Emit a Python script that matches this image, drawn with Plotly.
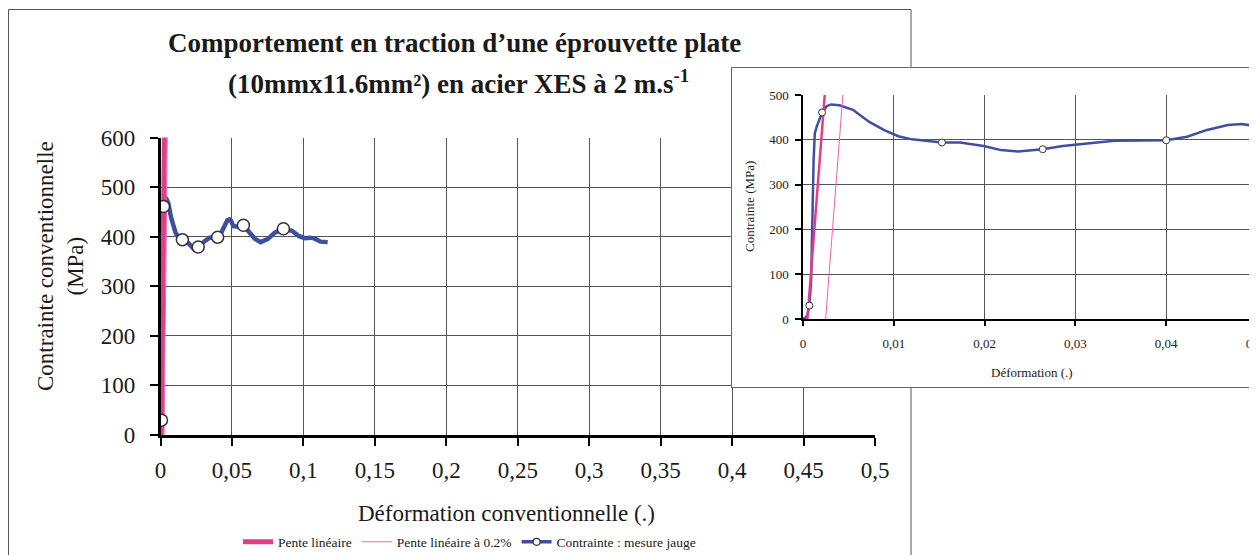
import plotly.graph_objects as go

# ---------------- data ----------------
strain = [0.0, 0.0003, 0.0005, 0.0007, 0.0009, 0.0010, 0.0011, 0.00117, 0.0013,
          0.0015, 0.0018, 0.0021, 0.0026, 0.0031, 0.0040, 0.0055, 0.0073, 0.0090,
          0.0105, 0.0120, 0.0153, 0.0173, 0.0199, 0.0218, 0.0237, 0.0264, 0.0286,
          0.0309, 0.0343, 0.0400, 0.0423, 0.0445, 0.0468, 0.0483, 0.0494, 0.0510,
          0.0550, 0.0580, 0.0620, 0.0660, 0.0700, 0.0750, 0.0800, 0.0860, 0.0920,
          0.0970, 0.1010, 0.1050, 0.1080, 0.1120, 0.1170]
stress = [0, 3, 10, 31, 87, 161, 288, 355, 414,
          429, 444, 461, 475, 479, 477, 467, 440, 421,
          408, 401, 394, 394, 386, 377, 374, 379, 386,
          391, 398, 399, 407, 422, 433, 435, 432, 421,
          420, 423, 410, 396, 389, 395, 408, 416, 412,
          401, 397, 398, 396, 390, 389]

marker_strain = [0.0007, 0.0021, 0.0153, 0.0264, 0.0400, 0.0580, 0.0860]
marker_stress = [30, 461, 394, 379, 399, 423, 416]

pente_strain = [0.00045, 0.00285]
pente_stress = [-10, 620]
pente02_strain = [0.00245, 0.00485]
pente02_stress = [-10, 620]

main_xticks = [0, 0.05, 0.1, 0.15, 0.2, 0.25, 0.3, 0.35, 0.4, 0.45, 0.5]
main_xlabels = ["0", "0,05", "0,1", "0,15", "0,2", "0,25", "0,3", "0,35", "0,4", "0,45", "0,5"]
main_yticks = [0, 100, 200, 300, 400, 500, 600]
inset_xticks = [0, 0.01, 0.02, 0.03, 0.04, 0.05]
inset_xlabels = ["0", "0,01", "0,02", "0,03", "0,04", "0,05"]
inset_yticks = [0, 100, 200, 300, 400, 500]

# ---------------- styling ----------------
PAGE_W, PAGE_H = 1257, 555
OFF = 8                       # default page margin around the plot div
FW, FH = PAGE_W - OFF, PAGE_H - OFF
SERIF = "Liberation Serif"
BLUE = "#3F4FA0"
PINK = "#E23D8B"
PINK_THIN = "#EE62A8"
GRID = "#555555"


def px(x):
    return (x - OFF) / FW


def py(y):
    return 1 - (y - OFF) / FH


fig = go.Figure()

# ---- main chart ----
fig.add_trace(go.Scatter(x=strain, y=stress, mode="lines", xaxis="x", yaxis="y",
                         line=dict(color=BLUE, width=4.5), showlegend=False,
                         hoverinfo="skip"))
fig.add_trace(go.Scatter(x=pente_strain, y=pente_stress, mode="lines", xaxis="x", yaxis="y",
                         name="Pente linéaire", line=dict(color=PINK, width=5),
                         legendrank=1))
fig.add_trace(go.Scatter(x=pente02_strain, y=pente02_stress, mode="lines", xaxis="x", yaxis="y",
                         name="Pente linéaire à 0.2%", line=dict(color=PINK_THIN, width=1),
                         legendrank=2))
fig.add_trace(go.Scatter(x=marker_strain, y=marker_stress, mode="markers", xaxis="x", yaxis="y",
                         marker=dict(symbol="circle", size=12, color="white",
                                     line=dict(color="#333333", width=1.5)),
                         showlegend=False, hoverinfo="skip"))
# legend entry for the measured curve
fig.add_trace(go.Scatter(x=[None], y=[None], mode="lines+markers", xaxis="x", yaxis="y",
                         name="Contrainte : mesure jauge",
                         line=dict(color=BLUE, width=3.5),
                         marker=dict(symbol="circle", size=7, color="white",
                                     line=dict(color="#333333", width=1.2)),
                         legendrank=3))

# ---- inset frame subplot (white background covering the main chart) ----
fig.add_trace(go.Scatter(x=[None], y=[None], mode="lines", xaxis="x2", yaxis="y2",
                         showlegend=False, hoverinfo="skip"))

# ---- inset chart ----
fig.add_trace(go.Scatter(x=strain, y=stress, mode="lines", xaxis="x3", yaxis="y3",
                         line=dict(color=BLUE, width=2.5), showlegend=False,
                         hoverinfo="skip"))
fig.add_trace(go.Scatter(x=pente_strain, y=pente_stress, mode="lines", xaxis="x3", yaxis="y3",
                         line=dict(color=PINK, width=2.5), showlegend=False))
fig.add_trace(go.Scatter(x=pente02_strain, y=pente02_stress, mode="lines", xaxis="x3", yaxis="y3",
                         line=dict(color=PINK_THIN, width=1), showlegend=False))
fig.add_trace(go.Scatter(x=marker_strain, y=marker_stress, mode="markers", xaxis="x3", yaxis="y3",
                         marker=dict(symbol="circle", size=7, color="white",
                                     line=dict(color="#333333", width=1)),
                         showlegend=False, hoverinfo="skip"))

main_tickfont = dict(family=SERIF, size=23, color="#1a1a1a")
inset_tickfont = dict(family=SERIF, size=13, color="#1a1a1a")

fig.update_layout(
    width=FW, height=FH, autosize=False,
    margin=dict(l=0, r=0, t=0, b=0, pad=0, autoexpand=False),
    paper_bgcolor="white", plot_bgcolor="white",
    separators=", ",
    font=dict(family=SERIF, color="#1a1a1a"),
    xaxis=dict(domain=[px(160.5), px(875)], range=[0, 0.5], anchor="y",
               tickvals=main_xticks, ticktext=main_xlabels,
               showline=True, linecolor="black", linewidth=2.5,
               ticks="outside", ticklen=8, tickwidth=2, tickcolor="black",
               showgrid=True, gridcolor=GRID, gridwidth=1, zeroline=False,
               tickfont=main_tickfont, ticklabelstandoff=5, automargin=False),
    yaxis=dict(domain=[py(435), py(137.5)], range=[0, 600], anchor="x",
               tickvals=main_yticks,
               showline=True, linecolor="black", linewidth=2.5,
               ticks="outside", ticklen=8, tickwidth=2, tickcolor="black",
               showgrid=True, gridcolor=GRID, gridwidth=1, zeroline=False,
               tickfont=main_tickfont, ticklabelstandoff=10, automargin=False),
    xaxis2=dict(domain=[px(732), 1], range=[0, 1], anchor="y2",
                showline=True, mirror=True, linecolor="#666666", linewidth=1,
                showgrid=False, zeroline=False, showticklabels=False, ticks="",
                automargin=False),
    yaxis2=dict(domain=[py(387), py(68)], range=[0, 1], anchor="x2",
                showline=True, linecolor="#666666", linewidth=1,
                showgrid=False, zeroline=False, showticklabels=False, ticks="",
                automargin=False),
    xaxis3=dict(domain=[px(803), 1], range=[0, 0.05], anchor="y3",
                tickvals=inset_xticks, ticktext=inset_xlabels,
                showline=True, linecolor="black", linewidth=1.5,
                ticks="outside", ticklen=5, tickwidth=1.5, tickcolor="black",
                showgrid=True, gridcolor=GRID, gridwidth=1, zeroline=False,
                tickfont=inset_tickfont, ticklabelstandoff=7, automargin=False,
                ticklabeloverflow="allow"),
    yaxis3=dict(domain=[py(319), py(95)], range=[0, 500], anchor="x3",
                tickvals=inset_yticks,
                showline=True, linecolor="black", linewidth=1.5,
                ticks="outside", ticklen=6, tickwidth=1.5, tickcolor="black",
                showgrid=True, gridcolor=GRID, gridwidth=1, zeroline=False,
                tickfont=inset_tickfont, ticklabelstandoff=4, automargin=False),
    showlegend=True,
    legend=dict(orientation="h", x=px(238), y=py(542), xanchor="left", yanchor="middle",
                font=dict(family=SERIF, size=13.5, color="#1a1a1a"),
                bgcolor="rgba(0,0,0,0)", itemwidth=30, tracegroupgap=0,
                traceorder="normal"),
    shapes=[dict(type="rect", xref="paper", yref="paper",
                 x0=px(8.5), x1=px(911), y0=-0.1, y1=py(9.5),
                 line=dict(color="#555555", width=1), fillcolor="rgba(0,0,0,0)",
                 layer="below")],
    annotations=[
        dict(text="<b>Comportement en traction d’une éprouvette plate</b>",
             x=px(454), y=py(43), xref="paper", yref="paper",
             xanchor="center", yanchor="middle", showarrow=False,
             font=dict(family=SERIF, size=27, color="#1a1a1a")),
        dict(text="<b>(10mmx11.6mm²) en acier XES à 2 m.s<sup>-1</sup></b>",
             x=px(458), y=py(82), xref="paper", yref="paper",
             xanchor="center", yanchor="middle", showarrow=False,
             font=dict(family=SERIF, size=27, color="#1a1a1a")),
        dict(text="Contrainte conventionnelle<br>(MPa)", textangle=-90,
             x=px(60), y=py(266), xref="paper", yref="paper",
             xanchor="center", yanchor="middle", showarrow=False,
             font=dict(family=SERIF, size=23, color="#1a1a1a")),
        dict(text="Déformation conventionnelle (.)",
             x=px(506), y=py(513), xref="paper", yref="paper",
             xanchor="center", yanchor="middle", showarrow=False,
             font=dict(family=SERIF, size=23, color="#1a1a1a")),
        dict(text="Déformation (.)",
             x=px(1032), y=py(372), xref="paper", yref="paper",
             xanchor="center", yanchor="middle", showarrow=False,
             font=dict(family=SERIF, size=13, color="#1a1a1a")),
        dict(text="Contrainte (MPa)", textangle=-90,
             x=px(749), y=py(207), xref="paper", yref="paper",
             xanchor="center", yanchor="middle", showarrow=False,
             font=dict(family=SERIF, size=13, color="#1a1a1a")),
    ],
)

fig.write_html("out.html")
